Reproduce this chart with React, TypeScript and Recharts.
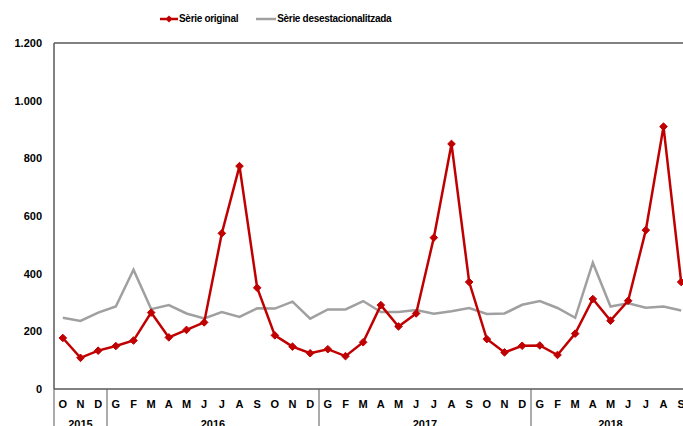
import { LineChart, Line, XAxis, YAxis, ReferenceLine } from 'recharts';

const months = ['O', 'N', 'D',
  'G', 'F', 'M', 'A', 'M', 'J', 'J', 'A', 'S', 'O', 'N', 'D',
  'G', 'F', 'M', 'A', 'M', 'J', 'J', 'A', 'S', 'O', 'N', 'D',
  'G', 'F', 'M', 'A', 'M', 'J', 'J', 'A', 'S'];

const years = [
  { label: '2015', count: 3 },
  { label: '2016', count: 12 },
  { label: '2017', count: 12 },
  { label: '2018', count: 9 },
];

const original = [177, 108, 133,
  149, 168, 265, 179, 205, 231, 540, 773, 351, 186, 147, 124,
  138, 114, 162, 291, 217, 262, 525, 850, 371, 173, 127, 150,
  151, 118, 192, 312, 237, 306, 551, 910, 371];

const desest = [247, 236, 265,
  286, 414, 277, 291, 262, 245, 267, 250, 280, 279, 303, 244,
  276, 276, 305, 267, 267, 274, 261, 270, 281, 260, 262, 292,
  305, 281, 247, 438, 286, 297, 282, 286, 272];

const yTicks = [0, 200, 400, 600, 800, 1000, 1200];

const RED = '#C00000';
const GREY = '#A0A0A0';
const AXIS = '#595959';
const FONT = '"Liberation Sans", Arial, sans-serif';

const data = months.map((m, i) => ({ m, orig: original[i], des: desest[i] }));

// first index of each year group + where its label goes
let start = 0;
const groups = years.map(y => {
  const g = { ...y, first: start, mid: start + (y.count - 1) / 2 };
  start += y.count;
  return g;
});

const W = 700;
const H = 440;
const M = { top: 43, right: 10, left: 8, bottom: 0 };
const YW = 46;
const step = (W - M.left - M.right - YW) / months.length;

function MonthTick({ x, y, payload }: any) {
  const i = payload.index;
  const grpStart = groups.find(g => g.first === i);
  const grpMid = groups.find(g => Math.floor(g.mid) === i);
  return (
    <g>
      {grpStart && (
        <line x1={x - step / 2} y1={y} x2={x - step / 2} y2={y + 50} stroke={AXIS} strokeWidth={1} />
      )}
      <text x={x} y={y + 19} textAnchor="middle" fontFamily={FONT} fontWeight="bold" fontSize={11} fill="#000">
        {payload.value}
      </text>
      {grpMid && (
        <text x={x + (grpMid.mid - i) * step} y={y + 39} textAnchor="middle" fontFamily={FONT} fontWeight="bold" fontSize={11} fill="#000">
          {grpMid.label}
        </text>
      )}
    </g>
  );
}

function Diamond({ cx, cy, index }: any) {
  if (cx == null || cy == null) return null;
  const s = 3.8;
  return <path key={index} d={`M${cx},${cy - s}L${cx + s},${cy}L${cx},${cy + s}L${cx - s},${cy}Z`} fill={RED} stroke={RED} />;
}

function LegendBox() {
  return (
    <div style={{ position: 'absolute', left: 160, top: 13, display: 'flex', alignItems: 'center', fontFamily: FONT, fontWeight: 'bold', fontSize: 10, letterSpacing: -0.3, color: '#000', zIndex: 2 }}>
      <svg width={18} height={10}>
        <line x1={0} y1={5} x2={18} y2={5} stroke={RED} strokeWidth={2.5} />
        <path d="M9,1.5L12.5,5L9,8.5L5.5,5Z" fill={RED} />
      </svg>
      <span style={{ marginLeft: 1 }}>Sèrie original</span>
      <svg width={20} height={10} style={{ marginLeft: 18 }}>
        <line x1={0} y1={5} x2={20} y2={5} stroke={GREY} strokeWidth={2.5} />
      </svg>
      <span style={{ marginLeft: 1 }}>Sèrie desestacionalitzada</span>
    </div>
  );
}

export default function App() {
  return (
    <div style={{ position: 'absolute', left: 0, top: 0, width: 683, height: 426, overflow: 'hidden', background: '#fff' }}>
      <LegendBox />
      <LineChart width={W} height={H} data={data} margin={M}>
        <XAxis
          dataKey="m"
          interval={0}
          tick={<MonthTick />}
          tickLine={false}
          tickSize={0}
          tickMargin={0}
          height={51}
          padding={{ left: step / 2, right: step / 2 }}
          axisLine={{ stroke: AXIS, strokeWidth: 1.5 }}
        />
        <YAxis
          width={YW}
          domain={[0, 1200]}
          ticks={yTicks}
          interval={0}
          tickLine={false}
          tickSize={0}
          tickMargin={12}
          axisLine={{ stroke: AXIS, strokeWidth: 1.5 }}
          tick={{ fontFamily: FONT, fontWeight: 'bold', fontSize: 11, fill: '#000' }}
          tickFormatter={(v: number) => v.toLocaleString('de-DE')}
        />
        <ReferenceLine y={1200} stroke={AXIS} strokeWidth={1.5} />
        <Line dataKey="des" stroke={GREY} strokeWidth={2.5} dot={false} isAnimationActive={false} />
        <Line dataKey="orig" stroke={RED} strokeWidth={2.5} dot={<Diamond />} activeDot={false} isAnimationActive={false} />
      </LineChart>
    </div>
  );
}
